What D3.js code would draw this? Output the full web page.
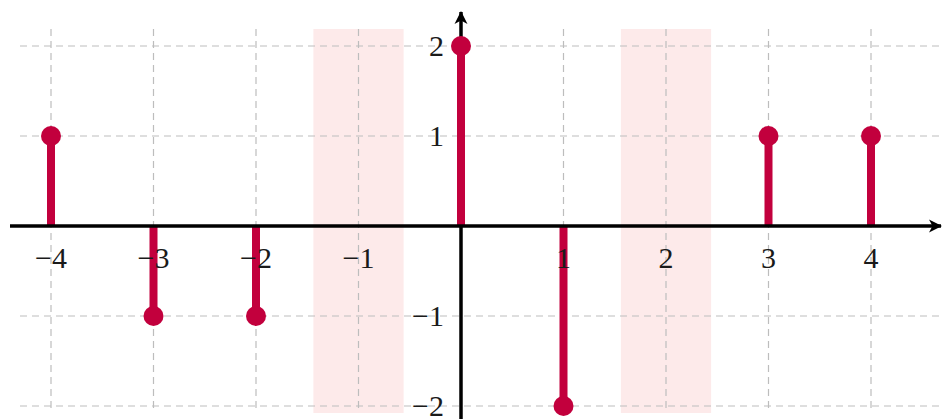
<!DOCTYPE html>
<html>
<head>
<meta charset="utf-8">
<script src="https://cdn.jsdelivr.net/npm/d3@7"></script>
<style>
  body { margin: 0; background: #fff; }
  text { font-family: "Liberation Serif", "DejaVu Serif", serif; fill: #1a1a1a; }
</style>
</head>
<body>
<div id="chart"></div>
<script>
// stem data
var stemX = [-4, -3, -2, 0, 1, 3, 4];
var stemY = [1, -1, -1, 2, -2, 1, 1];
// shaded bands (centres)
var bandCentres = [-1, 2];
var bandHalf = 0.44;
// ticks
var xTicks = [-4, -3, -2, -1, 0, 1, 2, 3, 4];
var xTickLabels = ["−4", "−3", "−2", "−1", "", "1", "2", "3", "4"];
var yTicks = [-2, -1, 1, 2];
var yTickLabels = ["−2", "−1", "1", "2"];

var width = 943, height = 419;
var red = "#c2003d";

var svg = d3.select("#chart").append("svg")
  .attr("width", width)
  .attr("height", height);

var x = d3.scaleLinear().domain([-4, 4]).range([51, 871]);
var y = d3.scaleLinear().domain([-2, 2]).range([406, 46]);

// grid / band extents
var gx0 = x.invert(20), gx1 = x.invert(943);
var gy0 = y.invert(413), gy1 = y.invert(29);

// arrow marker
svg.append("defs").append("marker")
  .attr("id", "arrow")
  .attr("markerUnits", "userSpaceOnUse")
  .attr("viewBox", "-14 -8 16 16")
  .attr("refX", 0).attr("refY", 0)
  .attr("markerWidth", 16).attr("markerHeight", 16)
  .attr("orient", "auto")
  .append("path")
  .attr("d", "M1,0 L-12,-6.5 L-8.5,0 L-12,6.5 Z")
  .attr("fill", "#000");

// bands
svg.append("g").selectAll("rect")
  .data(bandCentres)
  .enter().append("rect")
  .attr("x", d => x(d - bandHalf))
  .attr("width", d => x(d + bandHalf) - x(d - bandHalf))
  .attr("y", y(gy1))
  .attr("height", y(gy0) - y(gy1))
  .attr("fill", "#fdeaea");

// grid
var grid = svg.append("g")
  .attr("stroke", "#bdbdbd")
  .attr("stroke-width", 1.2)
  .attr("stroke-dasharray", "7,5");

grid.selectAll(".vg")
  .data(xTicks)
  .enter().append("line")
  .attr("x1", d => x(d)).attr("x2", d => x(d))
  .attr("y1", y(gy1)).attr("y2", y(gy0));

grid.selectAll(".hg")
  .data([-2, -1, 1, 2])
  .enter().append("line")
  .attr("y1", d => y(d)).attr("y2", d => y(d))
  .attr("x1", x(gx0)).attr("x2", x(gx1));

// y axis (under the stems)
svg.append("line")
  .attr("x1", x(0)).attr("x2", x(0))
  .attr("y1", 419).attr("y2", 12)
  .attr("stroke", "#000")
  .attr("stroke-width", 3.5)
  .attr("marker-end", "url(#arrow)");

// stems
svg.append("g").selectAll("line")
  .data(stemX)
  .enter().append("line")
  .attr("x1", d => x(d)).attr("x2", d => x(d))
  .attr("y1", y(0))
  .attr("y2", (d, i) => y(stemY[i]))
  .attr("stroke", red)
  .attr("stroke-width", 8);

// x axis
svg.append("line")
  .attr("x1", 10).attr("x2", 941)
  .attr("y1", y(0)).attr("y2", y(0))
  .attr("stroke", "#000")
  .attr("stroke-width", 3.5)
  .attr("marker-end", "url(#arrow)");

// dots
svg.append("g").selectAll("circle")
  .data(stemX)
  .enter().append("circle")
  .attr("cx", d => x(d))
  .attr("cy", (d, i) => y(stemY[i]))
  .attr("r", 10)
  .attr("fill", red);

// tick labels
svg.append("g").selectAll("text")
  .data(xTicks)
  .enter().append("text")
  .attr("x", d => x(d))
  .attr("y", y(0) + 31)
  .attr("dy", "0.35em")
  .attr("text-anchor", "middle")
  .attr("font-size", 30)
  .text((d, i) => xTickLabels[i]);

svg.append("g").selectAll("text")
  .data(yTicks)
  .enter().append("text")
  .attr("x", x(0) - 17)
  .attr("y", d => y(d))
  .attr("dy", "0.33em")
  .attr("text-anchor", "end")
  .attr("font-size", 30)
  .text((d, i) => yTickLabels[i]);
</script>
</body>
</html>
